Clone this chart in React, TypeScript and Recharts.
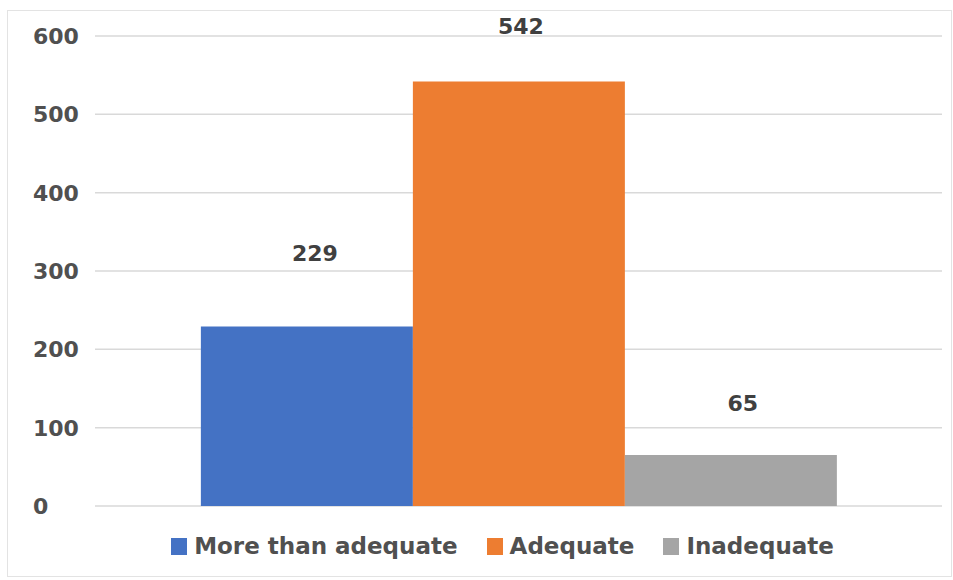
import React from "react";
import {
  BarChart, Bar, XAxis, YAxis, CartesianGrid, Legend, LabelList,
} from "recharts";

// data
const categories = [""];
const seriesNames = ["More than adequate", "Adequate", "Inadequate"];
const moreThanAdequate = [229];
const adequate = [542];
const inadequate = [65];
const yTicks = [0, 100, 200, 300, 400, 500, 600];

const seriesValues = [moreThanAdequate, adequate, inadequate];
const keys = ["more", "adequate", "inadequate"];

// looks per series (colour + where the value label sits)
const seriesStyle = [
  { fill: "#4472C4", dx: 8, dy: 74 },
  { fill: "#ED7D31", dx: 2, dy: 55 },
  { fill: "#A5A5A5", dx: 12, dy: 52 },
];

const data = categories.map((name, i) => {
  const row: any = { name };
  keys.forEach((k, s) => (row[k] = seriesValues[s][i]));
  return row;
});

const FONT = "'DejaVu Sans', Arial, sans-serif";

const YTick = ({ x, y, payload }: any) => (
  <text
    x={x - 62}
    y={y}
    dy={8}
    textAnchor="start"
    fontFamily={FONT}
    fontWeight={700}
    fontSize={22}
    fill="#505050"
  >
    {payload.value}
  </text>
);

const LegendBox = () => (
  <div
    style={{
      display: "flex",
      justifyContent: "center",
      alignItems: "center",
      height: 30,
      paddingLeft: 46,
      fontFamily: FONT,
      fontWeight: 700,
      fontSize: 23,
      color: "#505050",
      gap: 29,
    }}
  >
    {seriesNames.map((n, i) => (
      <div key={n} style={{ display: "flex", alignItems: "center" }}>
        <span
          style={{
            display: "inline-block",
            width: 16,
            height: 17,
            background: seriesStyle[i].fill,
            marginRight: 7,
          }}
        />
        <span>{n}</span>
      </div>
    ))}
  </div>
);

export default function App() {
  return (
    <div
      style={{
        position: "absolute",
        left: 7,
        top: 10,
        width: 945,
        height: 567,
        boxSizing: "border-box",
        border: "1px solid #e3e3e3",
        background: "#fff",
      }}
    >
      <BarChart
        width={943}
        height={565}
        data={data}
        margin={{ top: 25, right: 9, bottom: 15, left: 0 }}
        barCategoryGap="12.5%"
        barGap={0}
      >
        <CartesianGrid vertical={false} stroke="#d9d9d9" strokeWidth={1.5} />
        <XAxis
          dataKey="name"
          height={25}
          tick={false}
          axisLine={false}
          tickLine={false}
        />
        <YAxis
          width={87}
          domain={[0, 600]}
          ticks={yTicks}
          interval={0}
          axisLine={false}
          tickLine={false}
          tickSize={0}
          tickMargin={0}
          tick={<YTick />}
        />
        <Legend
          verticalAlign="bottom"
          content={<LegendBox />}
          wrapperStyle={{ left: 0, width: 943, height: 30 }}
        />
        {keys.map((k, i) => (
          <Bar
            key={k}
            dataKey={k}
            name={seriesNames[i]}
            fill={seriesStyle[i].fill}
            isAnimationActive={false}
          >
            <LabelList
              dataKey={k}
              content={({ x, y, width, value }: any) => (
                <text
                  x={x + width / 2 + seriesStyle[i].dx}
                  y={y - seriesStyle[i].dy}
                  dy={8}
                  textAnchor="middle"
                  fontFamily={FONT}
                  fontWeight={700}
                  fontSize={22}
                  fill="#404040"
                >
                  {value}
                </text>
              )}
            />
          </Bar>
        ))}
      </BarChart>
    </div>
  );
}
